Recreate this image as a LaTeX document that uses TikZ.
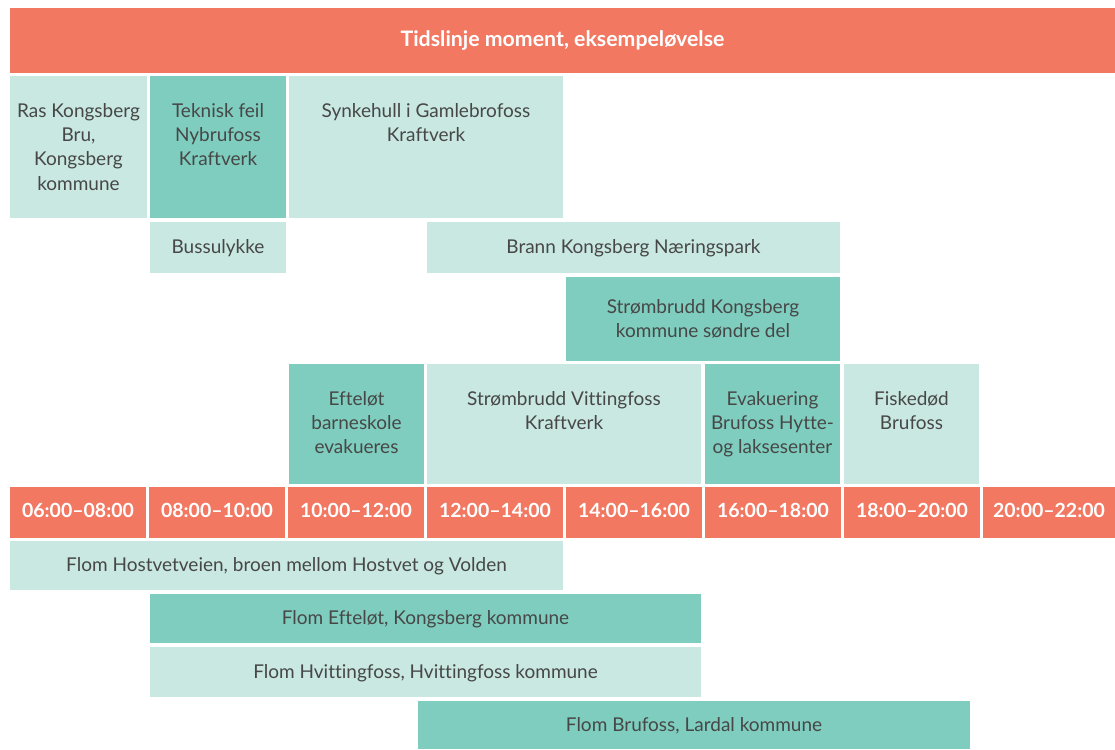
\documentclass[tikz,border=0pt]{standalone}
\usepackage{fontspec}
\setmainfont{Lato}[Ligatures=NoCommon]
\usepackage{xcolor}
\usetikzlibrary{positioning}

\definecolor{coral}{HTML}{F27862}
\definecolor{mint}{HTML}{C8E8E1}
\definecolor{teal}{HTML}{7ECDBE}
\definecolor{ink}{HTML}{474747}

\begin{document}
\begin{tikzpicture}[
    x=1pt, y=-1pt,
    cell/.style={rectangle, inner sep=0pt, outer sep=0pt, anchor=north west, align=center,
                 text=ink, font=\fontsize{19}{24.3}\selectfont},
    light/.style={cell, fill=mint},
    dark/.style={cell, fill=teal},
    bar/.style={cell, fill=coral, text=white, font=\fontsize{19.5}{24}\selectfont\bfseries},
    row/.style={text height=14pt, text depth=2pt},
    lbl/.style={inner sep=0pt, align=center, text=ink, font=\fontsize{19}{24.3}\selectfont}
]
\useasboundingbox (0,0) rectangle (1115,749);

% Title
\node[bar, minimum width=1105, minimum height=65, font=\fontsize{21.3}{24}\selectfont\bfseries] (title) at (10,8) {Tidslinje moment, eksempeløvelse};

% Events before the time row
\node[light, minimum width=137, minimum height=142] (ras) at (10,76) {};
\node[lbl, below=27pt of ras.north] (rasT) {Ras Kongsberg\\Bru,\\Kongsberg\\kommune};
\node[dark, minimum width=136, minimum height=142] (feil) at (150,76) {};
\node[lbl, below=27pt of feil.north] (feilT) {Teknisk feil\\Nybrufoss\\Kraftverk};
\node[light, minimum width=274, minimum height=142] (synk) at (289,76) {};
\node[lbl, below=27pt of synk.north] (synkT) {Synkehull i Gamlebrofoss\\Kraftverk};

\node[light, row, minimum width=136, minimum height=51] (buss) at (150,222) {Bussulykke};
\node[light, row, minimum width=413, minimum height=51] (brann) at (427,222) {Brann Kongsberg Næringspark};

\node[dark, minimum width=274, minimum height=84] (stromK) at (566,277) {Strømbrudd Kongsberg\\kommune søndre del};

\node[dark, minimum width=135, minimum height=120] (eftel) at (289,364) {};
\node[lbl, below=27pt of eftel.north] (eftelT) {Efteløt\\barneskole\\evakueres};
\node[light, minimum width=274, minimum height=120] (stromV) at (427,364) {};
\node[lbl, below=27pt of stromV.north] (stromVT) {Strømbrudd Vittingfoss\\Kraftverk};
\node[dark, minimum width=135, minimum height=120] (evak) at (705,364) {};
\node[lbl, below=27pt of evak.north] (evakT) {Evakuering\\Brufoss Hytte-\\og laksesenter};
\node[light, minimum width=135, minimum height=120] (fisk) at (844,364) {};
\node[lbl, below=27pt of fisk.north] (fiskT) {Fiskedød\\Brufoss};

% Time row
\foreach \t [count=\i from 0] in {06:00--08:00, 08:00--10:00, 10:00--12:00, 12:00--14:00,
                                  14:00--16:00, 16:00--18:00, 18:00--20:00, 20:00--22:00} {
    \pgfmathsetmacro{\w}{\i==7 ? 132 : 136}
    \node[bar, text height=14pt, text depth=5pt, minimum width=\w, minimum height=51] (slot\i) at (10+139*\i,487) {\t};
}

% Floods
\node[light, row, minimum width=553, minimum height=49] (hostvet) at (10,541) {Flom Hostvetveien, broen mellom Hostvet og Volden};
\node[dark, row, minimum width=551, minimum height=49] (eftelFlom) at (150,594) {Flom Efteløt, Kongsberg kommune};
\node[light, row, minimum width=551, minimum height=50] (hvitt) at (150,647) {Flom Hvittingfoss, Hvittingfoss kommune};
\node[dark, row, minimum width=552, minimum height=48] (brufoss) at (418,701) {Flom Brufoss, Lardal kommune};

\end{tikzpicture}
\end{document}
